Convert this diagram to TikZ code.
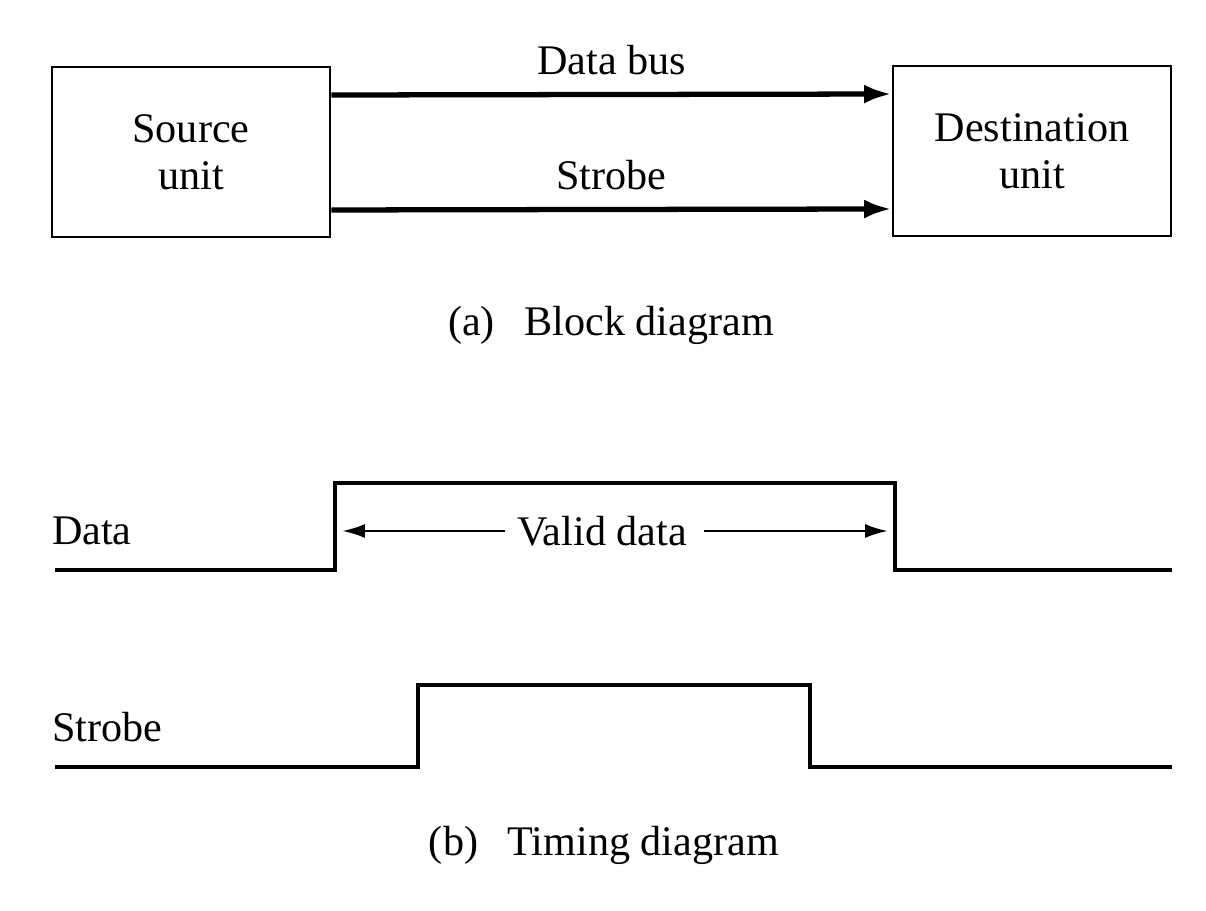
\documentclass[tikz,border=0pt]{standalone}
\usepackage{fontspec}
\setmainfont{Liberation Serif}
\usetikzlibrary{arrows.meta,positioning,calc}
\tikzset{
  txt/.style={font=\fontsize{24}{27}\selectfont, inner sep=1pt, align=center},
  unit/.style={txt, draw, line width=1.6pt, minimum width=5.56cm, minimum height=3.4cm},
  bus/.style={-{Latex[length=5.5mm, width=3.8mm]}, line width=3pt},
  wave/.style={line width=2.8pt, line join=miter},
  dim/.style={-{Latex[length=4.5mm, width=2.8mm]}, line width=1.1pt},
}

\begin{document}
\begin{tikzpicture}[x=0.02cm, y=-0.02cm]
  \useasboundingbox[fill=white] (0,0) rectangle (1206,911);
  % (a) block diagram
  \node[unit] (src) at (191,152) {Source\\unit};
  \node[unit] (dst) at (1032,151) {Destination\\unit};
  \draw[bus] ([yshift=1.14cm]src.east) -- node[txt, above=0.3cm] (dbus) {Data bus} ([yshift=1.14cm]dst.west);
  \draw[bus] ([yshift=-1.16cm]src.east) -- node[txt, above=0.3cm] (sbus) {Strobe} ([yshift=-1.16cm]dst.west);
  \node[txt] (capa) at (611,325) {(a)\hspace{0.7em}Block diagram};
  % (b) timing diagram
  \coordinate (dup) at (335,483);
  \coordinate (ddn) at (895,483);
  \draw[wave] (55,570) -- (dup |- 0,570) -- (dup) -- (ddn) -- (ddn |- 0,570) -- (1172,570);
  \draw[wave] (55,767) -- (418,767) -- (418,685) -- (810,685) -- (810,767) -- (1172,767);
  \node[txt, anchor=west] (dlbl) at (50,531) {Data};
  \node[txt, anchor=west] (slbl) at (50,727) {Strobe};
  \node[txt] (valid) at (602,531) {Valid data};
  \draw[dim] ([xshift=-0.2cm]valid.west) -- ([xshift=0.15cm]dup |- valid);
  \draw[dim] ([xshift=0.3cm]valid.east) -- ([xshift=-0.15cm]ddn |- valid);
  \node[txt] (capb) at (604,845) {(b)\hspace{0.7em}Timing diagram};
\end{tikzpicture}
\end{document}
